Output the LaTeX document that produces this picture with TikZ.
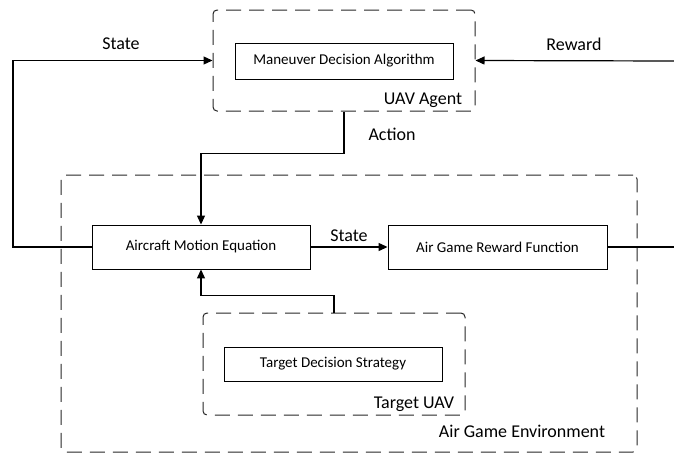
\documentclass[tikz,border=0pt]{standalone}
\usepackage{fontspec}
\setmainfont{Carlito}
\usetikzlibrary{arrows.meta}

\tikzset{
  block/.style={draw, line width=0.9pt, inner sep=0pt, font=\fontsize{15}{18}\selectfont},
  group/.style={draw=black!85, line width=1pt, dash pattern=on 15pt off 8pt, rounded corners=4pt, inner sep=0pt},
  tag/.style={inner sep=0pt, font=\fontsize{18}{21}\selectfont},
  flow/.style={line width=1.2pt, -{Triangle[length=9pt,width=8pt]}},
  wire/.style={line width=1.2pt}
}

\begin{document}
\begin{tikzpicture}[x=1pt, y=-1pt]
  \useasboundingbox (0,0) rectangle (674,453);
  % Containers
  \node[group, minimum width=262pt, minimum height=101pt] (agent) at (344,60.5) {};
  \node[group, minimum width=576pt, minimum height=277pt] (env) at (349,313.5) {};
  \node[group, minimum width=262pt, minimum height=102pt] (tuav) at (334,364) {};
  % Blocks
  \node[block, minimum width=218pt, minimum height=36pt] (mda) at (344,61) {Maneuver Decision Algorithm};
  \node[block, minimum width=218pt, minimum height=44pt] (ame) at (201,247) {Aircraft Motion Equation};
  \node[block, minimum width=219pt, minimum height=44pt] (agrf) at (497.5,247) {Air Game Reward Function};
  \node[block, minimum width=218pt, minimum height=34pt] (tds) at (333,364) {Target Decision Strategy};
  % Labels
  \node[tag] (lagent) at (423,100) {UAV Agent};
  \node[tag] (ltuav) at (414,404) {Target UAV};
  \node[tag] (lenv) at (522,431) {Air Game Environment};
  \node[tag] (lstate) at (121,44) {State};
  \node[tag] (lreward) at (574,44) {Reward};
  \node[tag] (laction) at (392,134) {Action};
  \node[tag] (lstate2) at (349,236) {State};
  % Free ends
  \coordinate (sl) at (13,247);
  \coordinate (rl) at (674,247);
  \coordinate (rt) at (674,61);
  % Connectors
  \draw[flow] (ame.west) -- (sl) |- (agent.west);
  \draw[flow] (rt) -- (agent.east);
  \draw[wire] (agrf.east) -- (rl);
  \draw[flow] (ame.east) -- (agrf.west);
  \draw[flow] (agent.south) -- ++(0,42) -| (ame.north);
  \draw[flow] (tuav.north) -- ++(0,-17) -| (ame.south);
\end{tikzpicture}
\end{document}
